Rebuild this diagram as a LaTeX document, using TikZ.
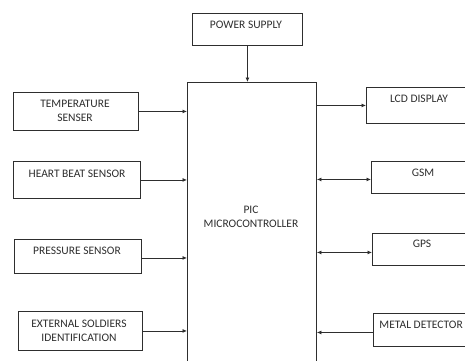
\documentclass[tikz,border=0pt]{standalone}
\usepackage{fontspec}
\setmainfont{Carlito}
\usetikzlibrary{arrows.meta}
\definecolor{ink}{HTML}{2E2E2E}
\tikzset{
  box/.style={draw=ink, line width=0.9pt, inner sep=0pt, anchor=north west},
  txt/.style={text=ink, font=\fontsize{11.5}{13}\selectfont, align=center, inner sep=0pt},
  arr/.style={draw=ink, line width=0.8pt, -{Latex[length=4.5pt,width=4pt]}},
  darr/.style={draw=ink, line width=0.8pt, {Latex[length=4.5pt,width=4pt]}-{Latex[length=4.5pt,width=4pt]}}
}
\begin{document}
\begin{tikzpicture}[x=1pt,y=-1pt]
\path[use as bounding box, fill=white] (0,0) rectangle (465,360);
\clip (0,0) rectangle (465,360);
% boxes
\node[box, minimum width=110pt, minimum height=32pt] (ps) at (192,13) {};
\node[box, minimum width=129pt, minimum height=290pt] (mcu) at (187,82) {};
\node[box, minimum width=125pt, minimum height=38pt] (temp) at (13,92) {};
\node[box, minimum width=127pt, minimum height=37pt] (hb) at (13,161) {};
\node[box, minimum width=127pt, minimum height=34pt] (pr) at (14,239) {};
\node[box, minimum width=124pt, minimum height=39pt] (ext) at (18,311) {};
\node[box, minimum width=106pt, minimum height=36pt] (lcd) at (366,87) {};
\node[box, minimum width=104pt, minimum height=32pt] (gsm) at (371,161) {};
\node[box, minimum width=100pt, minimum height=32pt] (gps) at (372,233) {};
\node[box, minimum width=110pt, minimum height=33pt] (md) at (373,313) {};
% texts
\node[txt] (tps) at (246,25) {POWER SUPPLY};
\node[txt] (tmcu) at (251,217) {PIC\\[1pt]MICROCONTROLLER};
\node[txt] (ttemp) at (75,111) {TEMPERATURE\\[1pt]SENSER};
\node[txt] (thb) at (77,174) {HEART BEAT SENSOR};
\node[txt] (tpr) at (77,251) {PRESSURE SENSOR};
\node[txt] (text) at (79,331) {EXTERNAL SOLDIERS\\[1pt]IDENTIFICATION};
\node[txt] (tlcd) at (419,99) {LCD DISPLAY};
\node[txt] (tgsm) at (423,173) {GSM};
\node[txt] (tgps) at (422,244) {GPS};
\node[txt, anchor=east] (tmd) at (463,325) {METAL DETECTOR};
% connectors
\draw[arr] (ps.south) -- (ps.south |- mcu.north);
\draw[arr] (temp.east) -- (temp.east -| mcu.west);
\draw[arr] (hb.east) -- (hb.east -| mcu.west);
\draw[arr] ([yshift=-1.5pt]pr.east) -- ([yshift=-1.5pt]pr.east -| mcu.west);
\draw[arr] (ext.east) -- (ext.east -| mcu.west);
\draw[arr] (lcd.west -| mcu.east) -- (lcd.west);
\draw[darr] ([yshift=-2pt]gsm.west -| mcu.east) -- ([yshift=-2pt]gsm.west);
\draw[darr] ([yshift=-3pt]gps.west -| mcu.east) -- ([yshift=-3pt]gps.west);
\draw[arr] ([yshift=-2.5pt]md.west) -- ([yshift=-2.5pt]md.west -| mcu.east);
\end{tikzpicture}
\end{document}
